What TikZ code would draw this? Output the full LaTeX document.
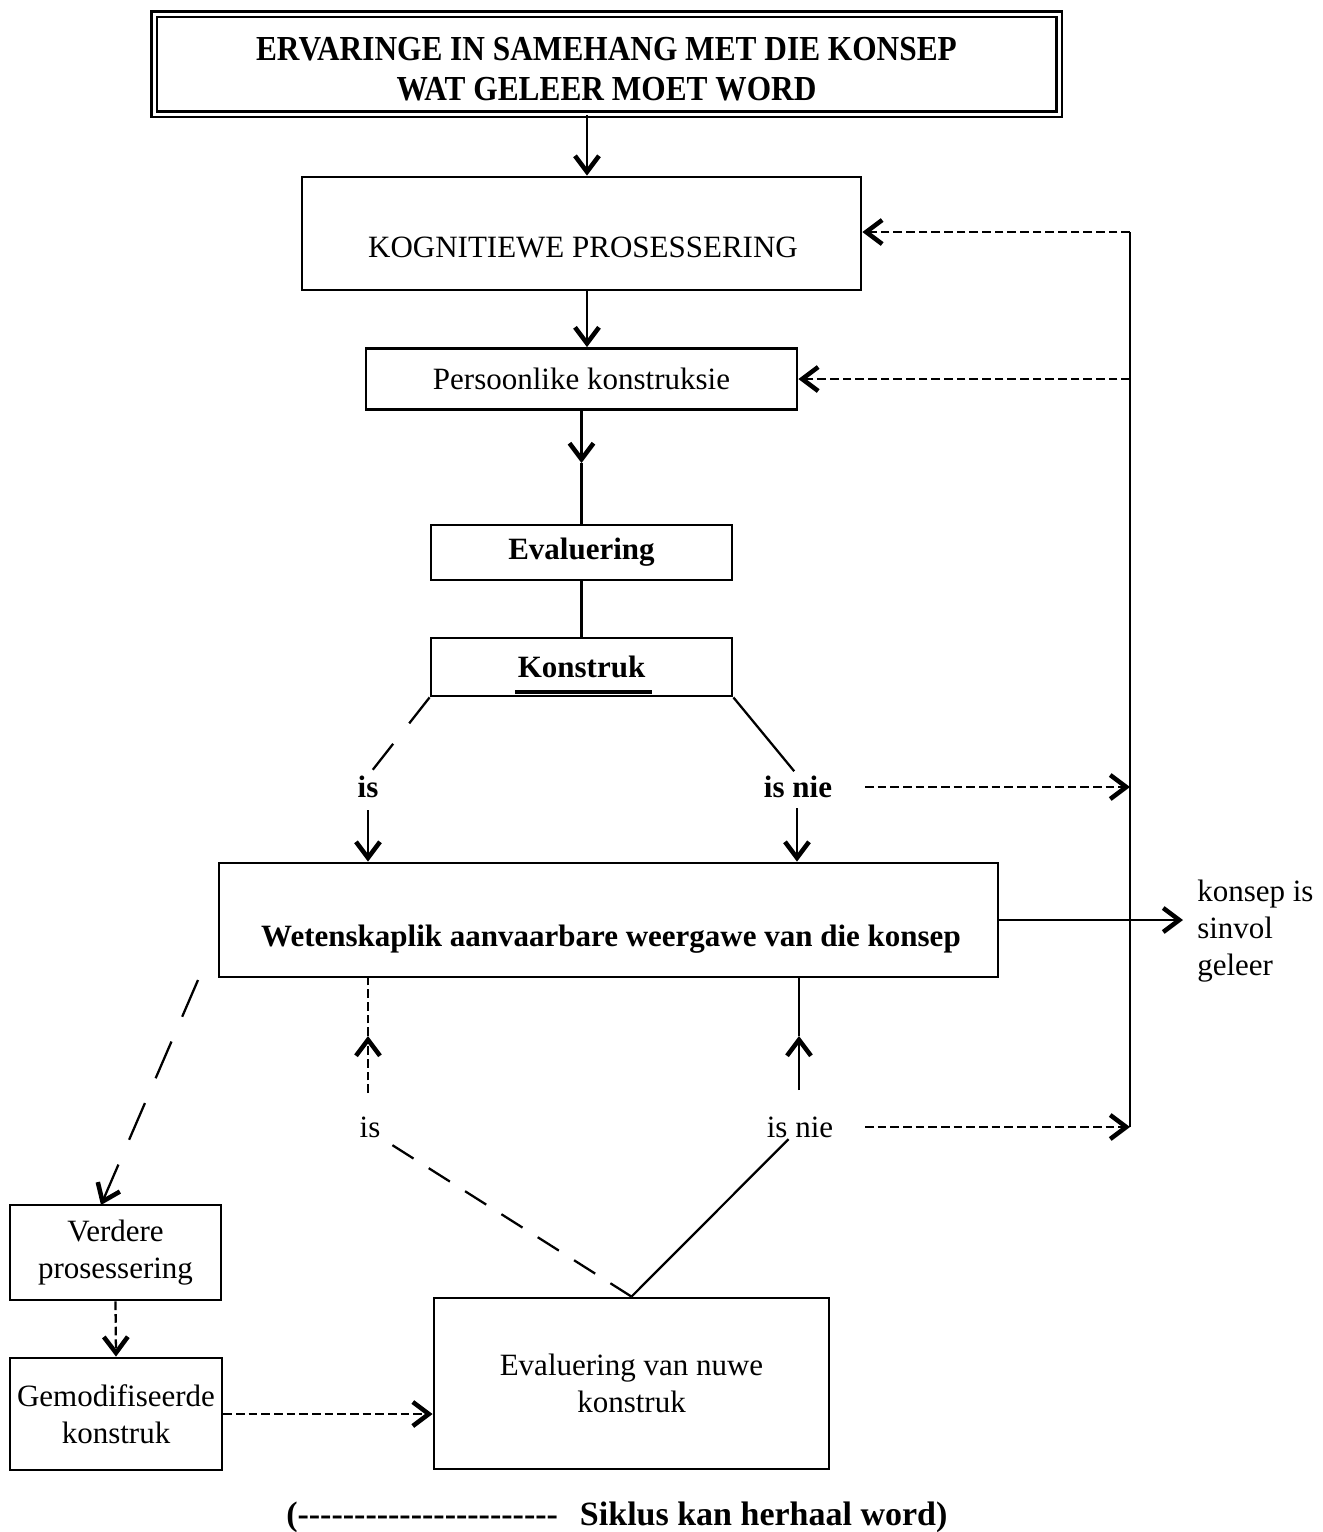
\documentclass[tikz,border=0pt]{standalone}
\usepackage{fontspec}
\setmainfont{Liberation Serif}
\usetikzlibrary{arrows.meta,calc}
\newdimen\upx \upx=0.75pt
\newcommand\fs{\fontsize{23.25pt}{27.75pt}\selectfont}
\newcommand\fstitle{\fontsize{23.5pt}{28.5pt}\selectfont}
\newcommand\fsfoot{\fontsize{25.5pt}{30pt}\selectfont}
\newcommand\dsh{\mbox{-}}
\newcommand\dshfive{\dsh\dsh\dsh\dsh\dsh}
\begin{document}
\begin{tikzpicture}[x=0.75pt,y=-0.75pt,
  box/.style={draw, line width=2.1pt, inner sep=0pt, align=center, font=\fs},
  lbl/.style={inner sep=0pt, font=\fs},
  conn/.style={line width=1.7pt},
  arr/.style={-{Straight Barb[length=12pt,width=18pt,line width=3.4pt]}},
  sdash/.style={dash pattern=on 6.5pt off 3pt},
  kdash/.style={dash pattern=on 24.75pt off 19.5pt},
  vdash/.style={dash pattern=on 30pt off 20.25pt},
  ndash/.style={dash pattern=on 18.75pt off 13.5pt}]
\path[use as bounding box] (0,0) rectangle (1322,1532);

% boxes
\node[draw, double, double distance=2.25pt, line width=2pt, inner sep=0pt,
      minimum width=905\upx, minimum height=100\upx, align=center,
      font=\fstitle\bfseries] (top) at (606.5,64)
      {\rule{0pt}{25pt}\scalebox{1}[1.12]{ERVARINGE IN SAMEHANG MET DIE KONSEP}\\[1pt]\scalebox{1}[1.12]{WAT GELEER MOET WORD}};
\node[box, minimum width=559\upx, minimum height=113\upx] (kog) at (581.5,233.5) {};
\node[lbl] (kogt) at (583,247) {KOGNITIEWE PROSESSERING};
\node[box, minimum width=431\upx, minimum height=61\upx] (pers) at (581.5,379) {Persoonlike konstruksie};
\node[box, minimum width=301\upx, minimum height=55\upx, font=\fs\bfseries] (eval) at (581.5,552.5) {Evaluering};
\node[box, minimum width=301\upx, minimum height=58\upx, font=\fs\bfseries] (kon) at (581.5,667) {Konstruk};
\draw[line width=2.4pt] (515,692) -- (652,692);
\node[box, minimum width=779\upx, minimum height=114\upx] (main) at (608.5,920) {};
\node[lbl, font=\fs\bfseries] (maint) at (611,939) {Wetenskaplik aanvaarbare weergawe van die konsep};
\node[lbl, align=left, anchor=west] (kt) at (1197,931) {konsep is\\sinvol\\geleer};
\node[box, minimum width=211\upx, minimum height=95\upx] (ver) at (115.5,1252.5) {Verdere\\prosessering};
\node[box, minimum width=212\upx, minimum height=112\upx] (gem) at (116,1414) {Gemodifiseerde\\konstruk};
\node[box, minimum width=395\upx, minimum height=171\upx] (nuwe) at (631.5,1383.5) {Evaluering van nuwe\\konstruk};

% branch labels
\node[lbl, font=\fs\bfseries] (lis) at (368,787) {is};
\node[lbl, font=\fs\bfseries] (lisnie) at (798,787) {is nie};
\node[lbl] (lis2) at (370,1127) {is};
\node[lbl] (lisnie2) at (800,1127) {is nie};

% footer
\node[lbl, font=\fsfoot\bfseries, anchor=west] (foot) at (286,1517)
  {(\dshfive\dshfive\dshfive\dshfive\dsh\dsh\dsh\hspace{22\upx}Siklus kan herhaal word)};

% helper points
\coordinate (xa) at (587,0);
\coordinate (m1) at (581.5,463);
\coordinate (isA) at (368,810);
\coordinate (nieA) at (797,808);
\coordinate (isB) at (368,1093);
\coordinate (isBt) at (368,1036);
\coordinate (nieB) at (799,1090);
\coordinate (nieBt) at (799,1036);
\coordinate (rt) at (1130,232);
\coordinate (rb) at (1130,1127);
\coordinate (dn1) at (865,787);
\coordinate (dn2) at (865,1127);
\coordinate (vs) at (198,980);
\coordinate (ve) at (101,1205);

% main flow
\draw[conn,arr] (top.south -| xa) -- (kog.north -| xa);
\draw[conn,arr] (kog.south -| xa) -- (pers.north -| xa);
\draw[conn,arr] (pers.south) -- (m1);
\draw[conn] (m1) -- (eval.north);
\draw[conn] (eval.south) -- (kon.north);

\draw[conn,kdash,shorten >=5pt] (kon.south west) -- (lis.north);
\draw[conn,shorten >=4.5pt] (kon.south east) -- (lisnie.north);
\draw[conn,arr] (isA) -- (isA |- main.north);
\draw[conn,arr] (nieA) -- (nieA |- main.north);

% feedback loop on the right
\draw[conn] (rt) -- (rb);
\draw[conn,sdash,arr] (rt) -- (rt -| kog.east);
\draw[conn,sdash,arr] (pers.east -| rt) -- (pers.east);
\draw[conn,sdash,arr] (dn1) -- (dn1 -| rt);
\draw[conn,sdash,arr] (dn2) -- (rb);

% outcome
\draw[conn,arr,shorten >=10.5pt] (main.east) -- (main.east -| kt.west);

% lower cycle
\draw[conn,vdash,arr] (vs) -- (ve);
\draw[conn,sdash,arr] (ver.south) -- (gem.north);
\draw[conn,sdash,arr] (gem.east) -- (gem.east -| nuwe.west);
\draw[conn,ndash,shorten >=3pt] (nuwe.north) -- (lis2.south east);
\draw[conn,shorten >=1.5pt] (nuwe.north) -- ($(lisnie2.south)+(-10,0)$);
\draw[conn,sdash,arr] (isB) -- (isBt);
\draw[conn,sdash] (isBt) -- (isBt |- main.south);
\draw[conn,arr] (nieB) -- (nieBt);
\draw[conn] (nieBt) -- (nieBt |- main.south);
\end{tikzpicture}
\end{document}
